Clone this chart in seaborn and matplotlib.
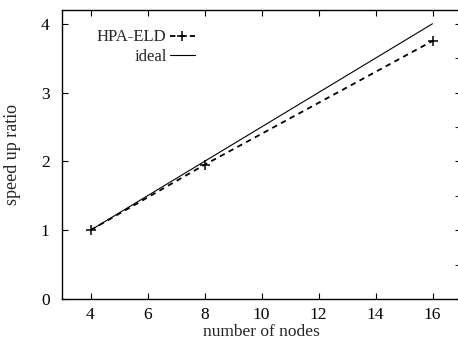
import matplotlib
matplotlib.use("Agg")
import matplotlib.pyplot as plt
from matplotlib.ticker import MultipleLocator
import seaborn as sns
import pandas as pd

nodes = [4, 8, 16]
hpa_eld = [1.0, 1.95, 3.75]
ideal = [1.0, 2.0, 4.0]

sns.set_style("ticks")
plt.rcParams['font.family'] = ['Liberation Serif', 'DejaVu Serif']
plt.rcParams['font.size'] = 12

fig = plt.figure(figsize=(4.58, 3.41), dpi=100)
ax = fig.add_axes([62/458, 42/341, 399/458, 289/341])

df = pd.DataFrame({"nodes": nodes, "HPA-ELD": hpa_eld, "ideal": ideal})

sns.lineplot(data=df, x="nodes", y="HPA-ELD", ax=ax, color="black", linewidth=1.3,
             linestyle=(0, (3, 2.5)), marker="+", markersize=6.5, markeredgewidth=1.1,
             markeredgecolor="black", label="HPA-ELD")
sns.lineplot(data=df, x="nodes", y="ideal", ax=ax, color="black", linewidth=0.8,
             label="ideal")

ax.set_xlim(3, 17)
ax.set_ylim(0, 4.2)
ax.set_xticks([4, 6, 8, 10, 12, 14, 16])
ax.set_yticks([0, 1, 2, 3, 4])
ax.yaxis.set_minor_locator(MultipleLocator(0.5))
ax.tick_params(axis='both', which='major', direction='in', length=4, width=0.8,
               top=True, right=True, labelsize=12.5, colors='black')
ax.tick_params(axis='x', which='major', pad=6)
ax.tick_params(axis='y', which='major', pad=9)
ax.tick_params(axis='y', which='minor', direction='in', length=4, width=0.8,
               left=False, right=True)
for s in ax.spines.values():
    s.set_visible(True)
    s.set_linewidth(1.0)
    s.set_color('black')

ax.set_xlabel("number of nodes", fontsize=12.5, labelpad=0.5)
ax.set_ylabel("speed up ratio", fontsize=13, labelpad=14)

ax.legend(loc="upper left", bbox_to_anchor=(0.05, 0.985), frameon=False, markerfirst=False,
          handlelength=1.5, handletextpad=0.2, labelspacing=0.2, fontsize=12)

fig.savefig("out.png", dpi=100)
